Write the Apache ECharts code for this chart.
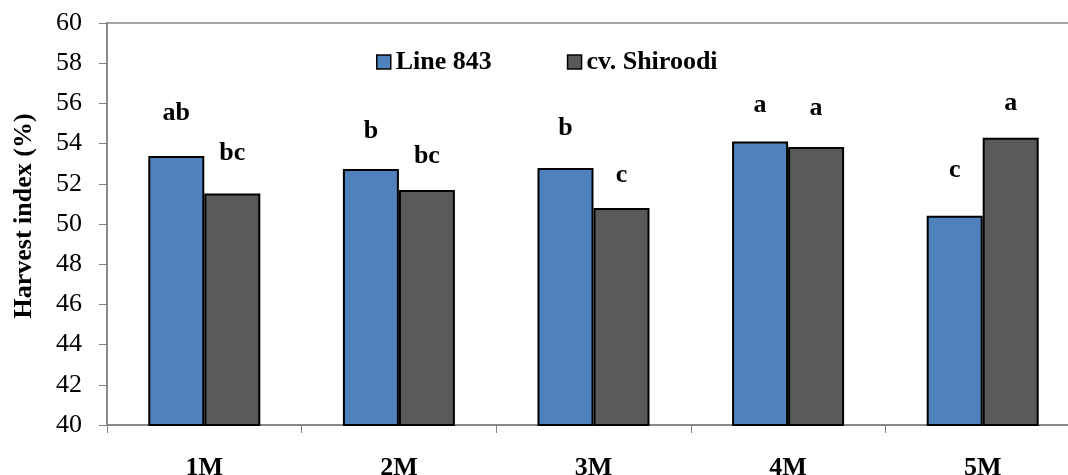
<!DOCTYPE html>
<html>
<head>
<meta charset="utf-8">
<script src="https://cdn.jsdelivr.net/npm/echarts@6/dist/echarts.min.js"></script>
<style>
  html, body { margin: 0; padding: 0; background: #fff; }
  #chart { width: 1068px; height: 475px; }
</style>
</head>
<body>
<div id="chart"></div>
<script>
// Harvest index by sowing treatment for two rice genotypes
const categories = ['1M', '2M', '3M', '4M', '5M'];
const seriesNames = ['Line 843', 'cv. Shiroodi'];
const line843 = [53.38, 52.74, 52.79, 54.10, 50.41];
const shiroodi = [51.52, 51.69, 50.80, 53.83, 54.29];
// Duncan grouping letters shown above each bar
const line843Letters = ['ab', 'b', 'b', 'a', 'c'];
const shiroodiLetters = ['bc', 'bc', 'c', 'a', 'a'];
// Vertical lift of each letter above its bar (px)
const line843Lift = [30, 25, 27, 23, 32];
const shiroodiLift = [27, 21, 20, 26, 21];
const yTicks = { min: 40, max: 60, interval: 2 };

const FONT = '"Liberation Serif", "Times New Roman", serif';

function barData(values, letters, lifts) {
  return values.map((v, i) => ({
    value: v,
    label: { distance: lifts[i], formatter: letters[i] }
  }));
}

const labelStyle = {
  show: true,
  position: 'top',
  fontFamily: FONT,
  fontWeight: 'bold',
  fontSize: 26,
  lineHeight: 26,
  color: '#000'
};

const chart = echarts.init(document.getElementById('chart'), null, { renderer: 'canvas' });
chart.setOption({
  animation: false,
  backgroundColor: '#fff',
  grid: {
    left: 107, top: 23, width: 973, height: 402,
    outerBoundsMode: 'none',
    containLabel: false,
    show: true, borderColor: '#a6a6a6', borderWidth: 2, backgroundColor: 'transparent'
  },
  legend: {
    left: 371, top: 44,
    itemWidth: 14, itemHeight: 14, itemGap: 75,
    data: seriesNames,
    itemStyle: { borderColor: '#000', borderWidth: 1.5 },
    textStyle: { fontFamily: FONT, fontWeight: 'bold', fontSize: 26, color: '#000' },
    icon: 'rect'
  },
  xAxis: {
    type: 'category',
    data: categories,
    axisLine: { lineStyle: { color: '#808080', width: 1.5 } },
    axisTick: { show: true, length: 8, lineStyle: { color: '#808080' } },
    axisLabel: { margin: 30, fontFamily: FONT, fontWeight: 'bold', fontSize: 26, color: '#000' }
  },
  yAxis: {
    type: 'value',
    min: yTicks.min, max: yTicks.max, interval: yTicks.interval,
    name: 'Harvest index (%)',
    nameLocation: 'middle',
    nameGap: 70,
    nameTextStyle: {
      fontFamily: FONT, fontWeight: 'bold', fontSize: 26, color: '#000',
      padding: [0, 0, 0, 16]
    },
    axisLine: { show: true, lineStyle: { color: '#808080', width: 1.5 } },
    axisTick: { show: true, length: 8, lineStyle: { color: '#808080' } },
    splitLine: { show: false },
    axisLabel: { margin: 25, fontFamily: FONT, fontSize: 26, color: '#000' }
  },
  series: [
    {
      name: seriesNames[0],
      type: 'bar',
      barWidth: 56,
      barGap: '0%',
      itemStyle: { color: '#4f81bd', borderColor: '#000', borderWidth: 2 },
      label: labelStyle,
      data: barData(line843, line843Letters, line843Lift)
    },
    {
      name: seriesNames[1],
      type: 'bar',
      barWidth: 56,
      barGap: '0%',
      itemStyle: { color: '#595959', borderColor: '#000', borderWidth: 2 },
      label: labelStyle,
      data: barData(shiroodi, shiroodiLetters, shiroodiLift)
    }
  ]
});
</script>
</body>
</html>
